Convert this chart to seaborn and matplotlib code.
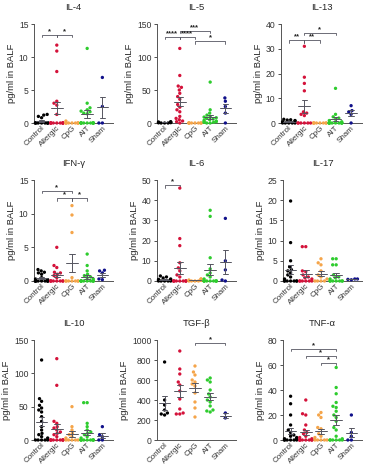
import numpy as np
import pandas as pd
import matplotlib
matplotlib.use("Agg")
import matplotlib.pyplot as plt
import seaborn as sns

sns.set_style("ticks")
plt.rcParams['font.family'] = ['Liberation Sans', 'DejaVu Sans']

groups = ['Control', 'Allergic', 'CpG', 'AIT', 'Sham']
palette = ['#000000', '#d4123a', '#f5a54a', '#2ecc2e', '#10108a']

# values (pg/ml in BALF)
il4 = {
    'Control': [0] * 9 + [0.8, 1.0, 1.2, 1.3],
    'Allergic': [11.8, 10.9, 7.8, 3.3, 3.0, 2.7, 1.3] + [0] * 11,
    'CpG': [0.3] + [0] * 9,
    'AIT': [11.3, 3.0, 2.3, 2.0, 1.8, 1.7, 1.5, 1.4] + [0] * 11,
    'Sham': [6.9, 2.5, 0, 0],
}
il5 = {
    'Control': [0, 0, 0, 0.5, 0.8, 1.0, 1.2, 1.5, 2.0, 0.3],
    'Allergic': [113, 72, 56, 54, 50, 45, 40, 36, 28, 24, 20, 17, 10, 7, 5, 3, 2, 0],
    'CpG': [0] * 8,
    'AIT': [62, 20, 15, 12, 10, 9, 8, 7, 6, 5, 4, 3, 2, 2, 1, 1, 0, 0],
    'Sham': [38, 33, 25, 15, 0],
}
il13 = {
    'Control': [0] * 5 + [0.5, 0.8, 1.0, 1.2, 1.5, 1.3],
    'Allergic': [31, 18.5, 16, 13, 4.5, 4, 3.5, 3] + [0] * 6,
    'CpG': [0] * 8,
    'AIT': [14, 3.5, 2.5, 2, 1.5, 1, 0.5] + [0] * 10,
    'Sham': [7, 5, 4.5, 3.5, 0],
}
ifng = {
    'Control': [1.7, 1.5, 1.3, 1.2, 1.0, 0.5, 0.3, 0.2] + [0] * 10,
    'Allergic': [5.0, 2.3, 2.0, 1.3, 1.2, 1.0, 0.8, 0.5] + [0] * 8,
    'CpG': [11.2, 9.8, 7.2, 0.5] + [0] * 7,
    'AIT': [4.0, 2.3, 1.5, 1.0, 0.8, 0.6, 0.5, 0.3] + [0] * 10,
    'Sham': [1.6, 1.5, 1.2, 0.3, 0.2],
}
il6 = {
    'Control': [2.5, 2.0, 1.5, 1.0, 0.8, 0.5, 0.3, 0, 0, 0, 0, 0],
    'Allergic': [46, 21, 17.5, 9, 6.5, 5, 3, 2] + [0] * 9,
    'CpG': [1, 1, 0.5, 0.3, 0, 0, 0, 0],
    'AIT': [35, 32, 11.5, 6, 4, 3, 2, 1] + [0] * 9,
    'Sham': [31, 10, 5.5, 0.5, 0],
}
il17 = {
    'Control': [19.8, 9.5, 5.0, 3.5, 2.8, 2.5, 2.0, 1.5, 1.0, 0.5] + [0] * 7,
    'Allergic': [8.5, 8.5, 2.5, 2.3, 1.5, 1.0, 0.8, 0.5] + [0] * 6,
    'CpG': [5.5, 4.5, 4.0, 2.5, 1.5, 1.0, 0.5] + [0] * 4,
    'AIT': [5.5, 5.5, 4.0, 4.0, 1.5, 1.0, 0.8, 0.5] + [0] * 7,
    'Sham': [0.5, 0.4, 0.3, 0.5],
}
il10 = {
    'Control': [120, 62, 58, 52, 48, 45, 42, 35, 28, 20, 15, 10, 8, 5, 3] + [0] * 5,
    'Allergic': [122, 82, 28, 25, 20, 18, 15, 12, 10, 8, 5] + [0] * 9,
    'CpG': [50, 20, 15, 10, 8, 5, 3] + [0] * 5,
    'AIT': [56, 56, 25, 20, 15, 12, 10, 8, 5, 3] + [0] * 9,
    'Sham': [20, 8, 5, 0, 0],
}
tgfb = {
    'Control': [780, 400, 350, 300, 270, 260, 250],
    'Allergic': [890, 710, 660, 580, 550, 490, 410, 310, 270, 260, 260],
    'CpG': [740, 680, 650, 600, 580, 560, 540, 470, 380, 320, 230],
    'AIT': [620, 600, 580, 500, 460, 430, 400, 380, 340, 300, 290, 280],
    'Sham': [270, 220],
}
tnfa = {
    'Control': [35, 29, 20, 12, 8, 6, 4, 3, 2, 1, 1] + [0] * 6,
    'Allergic': [32, 21, 20, 12, 8, 6, 5, 3, 2, 1] + [0] * 8,
    'CpG': [22, 20, 18, 10, 9, 5, 3, 2] + [0] * 5,
    'AIT': [58, 42, 37, 30, 27, 26, 23, 20, 18, 15, 10, 8, 3, 1] + [0] * 6,
    'Sham': [20, 6, 3, 0, 0],
}

# significance brackets: (group a, group b, label, height)
il4_sig = [(0, 1, '*', 13.4), (1, 2, '*', 13.4)]
il5_sig = [(0, 1, '****', 131), (1, 2, '****', 131), (1, 3, '***', 140), (2, 4, '*', 124)]
il13_sig = [(0, 1, '**', 33.5), (1, 2, '**', 33.5), (1, 3, '*', 36.5)]
ifng_sig = [(0, 2, '*', 13.4), (1, 2, '*', 12.3), (2, 3, '*', 12.3)]
il6_sig = [(0, 1, '*', 47.5)]
tgfb_sig = [(2, 4, '*', 975)]
tnfa_sig = [(0, 3, '*', 73), (1, 3, '*', 67.5), (2, 3, '*', 62)]

panels = [
    ('IL-4', il4, 15, 5, il4_sig),
    ('IL-5', il5, 150, 50, il5_sig),
    ('IL-13', il13, 40, 10, il13_sig),
    ('IFN-\u03b3', ifng, 15, 5, ifng_sig),
    ('IL-6', il6, 50, 10, il6_sig),
    ('IL-17', il17, 25, 5, []),
    ('IL-10', il10, 150, 50, []),
    ('TGF-\u03b2', tgfb, 1000, 200, tgfb_sig),
    ('TNF-\u03b1', tnfa, 80, 20, tnfa_sig),
]

# axes boxes in pixels: left, top, right, bottom
W, H = 369, 469
lefts = [[34, 157, 281], [34, 157, 283], [34, 157, 283]]
rights = [[113, 236, 362], [113, 236, 362], [113, 236, 362]]
tops = [24, 180, 340]
bottoms = [123, 281, 440]

fig = plt.figure(figsize=(W / 100, H / 100), dpi=100)
line_col = '#555560'

for i, (title, data, ymax, ystep, sig) in enumerate(panels):
    r, c = divmod(i, 3)
    l, rr, t, b = lefts[r][c], rights[r][c], tops[r], bottoms[r]
    ax = fig.add_axes([l / W, 1 - b / H, (rr - l) / W, (b - t) / H])

    df = pd.DataFrame([(g, v) for g in groups for v in data[g]], columns=['group', 'value'])
    sns.swarmplot(data=df, x='group', y='value', hue='group', order=groups, hue_order=groups,
                  palette=palette, size=2.4, legend=False, ax=ax, warn_thresh=1, clip_on=False)

    # mean +/- SEM
    for k, g in enumerate(groups):
        vals = np.array(data[g], dtype=float)
        m = vals.mean()
        sem = vals.std(ddof=1) / np.sqrt(len(vals))
        ax.plot([k - 0.38, k + 0.38], [m, m], color=line_col, lw=0.7, zorder=5)
        ax.plot([k, k], [m - sem, m + sem], color=line_col, lw=0.7, zorder=5)
        ax.plot([k - 0.18, k + 0.18], [m + sem, m + sem], color=line_col, lw=0.7, zorder=5)
        if m - sem > 0:
            ax.plot([k - 0.18, k + 0.18], [m - sem, m - sem], color=line_col, lw=0.7, zorder=5)

    # brackets
    tick = ymax * 0.025
    for a, bb, lab, h in sig:
        ax.plot([a, a, bb, bb], [h - tick, h, h, h - tick], color=line_col, lw=0.6, clip_on=False)
        ax.text((a + bb) / 2, h - ymax * 0.005, lab, ha='center', va='bottom', fontsize=5.5,
                fontweight='bold', color='#222222')

    ax.set_xlim(-0.5, 4.7)
    ax.set_ylim(0, ymax)
    ax.set_yticks(np.arange(0, ymax + ystep / 2, ystep))
    ax.set_xlabel('')
    ax.set_ylabel('pg/ml in BALF', fontsize=6.8, labelpad=2)
    ax.set_title(title, fontsize=6.8, pad=10)
    ax.set_xticks(range(len(groups)))
    ax.set_xticklabels(groups, rotation=45, ha='right', rotation_mode='anchor', fontsize=5.8)
    ax.tick_params(axis='both', length=2.5, width=0.6, pad=1.5, colors='#333333', labelsize=6.2)
    ax.tick_params(axis='x', length=0, pad=1, labelsize=5.8)
    for s in ['top', 'right']:
        ax.spines[s].set_visible(False)
    for s in ['left', 'bottom']:
        ax.spines[s].set_linewidth(0.7)
        ax.spines[s].set_color('#555555')

fig.savefig('out.png', dpi=100)
